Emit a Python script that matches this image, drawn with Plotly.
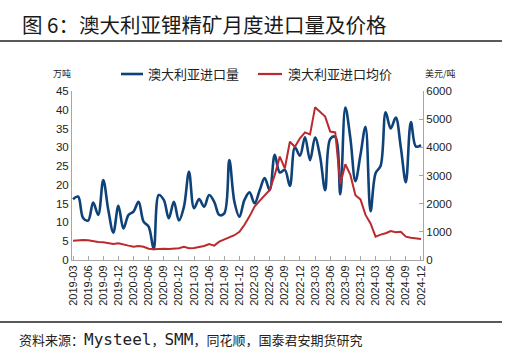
import plotly.graph_objects as go

# ---- data ----
months = [f"{y}-{m:02d}" for y in range(2019, 2025) for m in range(1, 13)][2:]  # 2019-03 .. 2024-12

volume_wt = [16.2, 16.9, 11.2, 10.5, 15.3, 12.0, 21.3, 13.3, 7.3, 14.4,
             8.4, 12.0, 12.9, 15.5, 10.2, 8.9, 2.9, 17.3, 16.0, 11.1,
             15.5, 10.5, 14.2, 23.5, 13.8, 16.2, 14.2, 17.3, 15.5, 12.0,
             12.4, 26.6, 15.5, 11.5, 16.0, 18.0, 15.1, 18.5, 21.8, 18.6,
             28.0, 23.3, 24.0, 19.7, 30.0, 27.8, 32.7, 26.6, 32.6, 27.5,
             18.6, 32.2, 32.8, 17.5, 40.6, 32.4, 21.0, 28.0, 35.5, 13.0,
             23.1, 25.1, 39.3, 35.0, 37.9, 30.0, 20.7, 36.7, 30.2, 30.6]

price_usd = [680, 700, 710, 700, 660, 640, 630, 600, 570, 590,
             540, 510, 475, 495, 470, 400, 380, 400, 395, 390,
             405, 420, 470, 420, 430, 470, 500, 570, 510, 650,
             720, 790, 880, 1000, 1250, 1550, 1900, 2100, 2300, 2490,
             3020, 3670, 3250, 4200, 4020, 4320, 4530, 4460, 5420, 5250,
             5090, 4560, 4530, 2690, 3400, 3020, 2300, 2150, 1600, 1300,
             830, 900, 950, 1030, 985, 1005, 830, 790, 770, 745]

tick_labels = months[::3]

series_names = ["澳大利亚进口量", "澳大利亚进口均价"]
title_text = "图 6：澳大利亚锂精矿月度进口量及价格"
MONO = "font-family:DejaVu Sans Mono;font-size:16px"
source_text = (f"资料来源：<span style='{MONO}'>Mysteel</span>，"
               f"<span style='{MONO}'>SMM</span>，同花顺，国泰君安期货研究")

BLUE = "#0f4278"
RED = "#bb2a2f"
CJK = "Noto Sans CJK SC"
NUM = "Liberation Sans"

# plot area in pixels (for placing paper-referenced decorations)
PL, PR, PT, PB = 72, 423, 91, 260
PW, PH = PR - PL, PB - PT


def px(x):
    return (x - PL) / PW


def py(y):
    return (PB - y) / PH


fig = go.Figure()
fig.add_trace(go.Scatter(x=months, y=volume_wt, name=series_names[0], mode="lines",
                         line=dict(color=BLUE, width=2.6, shape="spline", smoothing=1.0),
                         yaxis="y", showlegend=False))
fig.add_trace(go.Scatter(x=months, y=price_usd, name=series_names[1], mode="lines",
                         line=dict(color=RED, width=2.0),
                         yaxis="y2", showlegend=False))

axis_col = "#a6a6a6"
shapes = [
    dict(type="line", xref="paper", yref="paper", x0=px(0), x1=px(502),
         y0=py(41), y1=py(41), line=dict(color="#222", width=1.5)),
    dict(type="line", xref="paper", yref="paper", x0=px(0), x1=px(502),
         y0=py(322), y1=py(322), line=dict(color="#222", width=1.5)),
    # legend line swatches
    dict(type="line", xref="paper", yref="paper", x0=px(121), x1=px(143),
         y0=py(74), y1=py(74), line=dict(color=BLUE, width=2.6)),
    dict(type="line", xref="paper", yref="paper", x0=px(258), x1=px(282),
         y0=py(74), y1=py(74), line=dict(color=RED, width=2.2)),
]

annotations = [
    dict(text=title_text, xref="paper", yref="paper", x=px(20), y=py(24),
         xanchor="left", yanchor="middle", showarrow=False,
         font=dict(family=CJK, size=20.5, color="#1a1a1a")),
    dict(text=series_names[0], xref="paper", yref="paper", x=px(146), y=py(74),
         xanchor="left", yanchor="middle", showarrow=False,
         font=dict(family=CJK, size=13, color="#222")),
    dict(text=series_names[1], xref="paper", yref="paper", x=px(286), y=py(74),
         xanchor="left", yanchor="middle", showarrow=False,
         font=dict(family=CJK, size=13, color="#222")),
    dict(text="万吨", xref="paper", yref="paper", x=px(51), y=py(74),
         xanchor="left", yanchor="middle", showarrow=False,
         font=dict(family=CJK, size=9, color="#222")),
    dict(text="美元/吨", xref="paper", yref="paper", x=px(423), y=py(74),
         xanchor="left", yanchor="middle", showarrow=False,
         font=dict(family=CJK, size=9, color="#222")),
    dict(text=source_text, xref="paper", yref="paper", x=px(17), y=py(339),
         xanchor="left", yanchor="middle", showarrow=False,
         font=dict(family=CJK, size=13, color="#222")),
]

fig.update_layout(
    width=507, height=364, autosize=False,
    margin=dict(l=PL, r=507 - PR, t=PT, b=364 - PB, pad=0),
    paper_bgcolor="white", plot_bgcolor="white",
    showlegend=False,
    xaxis=dict(type="category", categoryorder="array", categoryarray=months,
               range=[-0.2, 69.4], tickmode="array", tickvals=tick_labels, ticktext=tick_labels,
               tickangle=-90, ticks="inside", ticklen=4, tickcolor=axis_col,
               showline=True, linecolor=axis_col, linewidth=1, showgrid=False, zeroline=False,
               tickfont=dict(family=NUM, size=11, color="#222")),
    yaxis=dict(range=[0, 45], dtick=5, showgrid=False, zeroline=False, showline=True,
               linecolor=axis_col, linewidth=1, ticks="",
               tickfont=dict(family=NUM, size=11.5, color="#222")),
    yaxis2=dict(range=[0, 6000], dtick=1000, overlaying="y", side="right", showgrid=False,
                zeroline=False, showline=True, linecolor=axis_col, linewidth=1,
                ticks="inside", ticklen=4, tickcolor=axis_col,
                tickfont=dict(family=NUM, size=11.5, color="#222")),
    shapes=shapes,
    annotations=annotations,
)

fig.write_html("out.html")
